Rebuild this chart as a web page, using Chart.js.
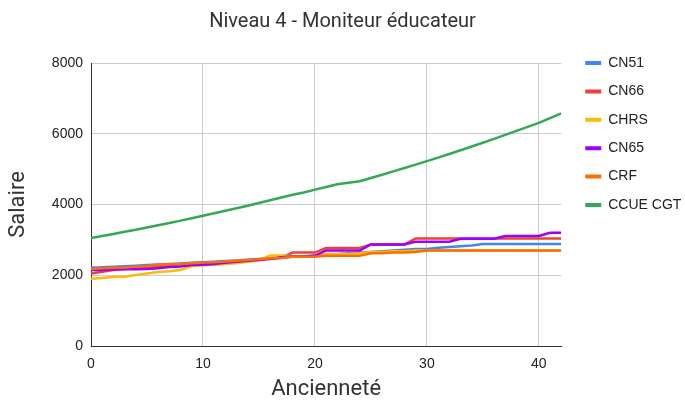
<!DOCTYPE html>
<html><head><meta charset="utf-8">
<script src="https://cdn.jsdelivr.net/npm/chart.js@4.4.0/dist/chart.umd.min.js"></script>
<style>html,body{margin:0;padding:0;background:#fff;}#wrap{width:685px;height:405px;}</style>
</head><body><div id="wrap"><canvas id="c" width="685" height="405"></canvas></div>
<script>
const years = [0,1,2,3,4,5,6,7,8,9,10,11,12,13,14,15,16,17,18,19,20,21,22,23,24,25,26,27,28,29,30,31,32,33,34,35,36,37,38,39,40,41,42];
const cn51 = [2210,2225,2240,2255,2270,2290,2305,2320,2335,2350,2370,2385,2400,2420,2440,2460,2480,2500,2520,2540,2560,2580,2600,2620,2640,2660,2680,2700,2720,2740,2740,2780,2800,2820,2840,2880,2880,2880,2880,2880,2880,2880,2880];
const cn66 = [2050,2100,2150,2180,2200,2220,2240,2260,2280,2300,2330,2350,2370,2400,2420,2450,2470,2490,2640,2640,2640,2770,2770,2770,2770,2870,2870,2870,2870,3040,3040,3040,3040,3040,3040,3040,3040,3040,3040,3040,3040,3040,3040];
const chrs = [1900,1920,1950,1960,2010,2050,2090,2110,2150,2260,2280,2300,2320,2340,2380,2420,2560,2560,2540,2540,2540,2600,2600,2600,2620,2660,2660,2680,2680,2700,2700,2700,2700,2700,2700,2700,2700,2700,2700,2700,2700,2700,2700];
const cn65 = [2150,2150,2170,2170,2170,2180,2200,2230,2250,2290,2300,2320,2350,2380,2410,2430,2460,2510,2530,2530,2550,2700,2700,2700,2700,2870,2870,2870,2870,2950,2950,2950,2950,3030,3030,3030,3030,3110,3110,3110,3110,3200,3200];
const crf = [2180,2200,2210,2220,2240,2260,2300,2310,2320,2340,2360,2370,2390,2410,2430,2450,2480,2490,2520,2520,2520,2550,2550,2550,2550,2620,2620,2640,2640,2660,2700,2700,2700,2700,2700,2700,2700,2700,2700,2700,2700,2700,2700];
const ccueCgt = [3050,3108,3167,3227,3288,3350,3413,3478,3544,3611,3680,3750,3821,3893,3967,4042,4118,4196,4275,4340,4420,4495,4570,4615,4660,4750,4840,4935,5030,5128,5226,5326,5428,5532,5638,5745,5855,5967,6081,6196,6308,6440,6575];
const seriesNames = ['CN51','CN66','CHRS','CN65','CRF','CCUE CGT'];
const seriesColors = ['#4285f4','#ea4335','#fbbc04','#9900ff','#ff6d01','#34a853'];
const yTicks = [0,2000,4000,6000,8000];
const xTicks = [0,10,20,30,40];

const allSeries = [cn51, cn66, chrs, cn65, crf, ccueCgt];
const datasets = allSeries.map((s, i) => ({
  label: seriesNames[i],
  data: s.map((v, j) => ({x: years[j], y: v})),
  borderColor: seriesColors[i],
  backgroundColor: seriesColors[i],
  borderWidth: 2.5,
  pointRadius: 0,
  pointHoverRadius: 0,
  tension: 0,
  fill: false,
  order: allSeries.length - i
}));

const tickFont = {family: "'Liberation Sans', Arial, sans-serif", size: 14};
new Chart(document.getElementById('c'), {
  type: 'line',
  data: {datasets},
  options: {
    responsive: false,
    animation: false,
    devicePixelRatio: 1,
    layout: {padding: 0},
    plugins: {
      title: {
        display: true,
        text: 'Niveau 4 - Moniteur éducateur',
        color: '#333',
        font: {family: 'Roboto', size: 20, weight: 'normal', lineHeight: 1.2},
        padding: {top: 10, bottom: 29}
      },
      legend: {
        position: 'right',
        align: 'start',
        title: {display: true, text: '', font: {size: 12, lineHeight: 1.2}, padding: {top: 27.2, bottom: 0}},
        labels: {
          boxWidth: 16,
          boxHeight: 4,
          padding: 14.4,
          color: '#222',
          font: {family: "'Liberation Sans', Arial, sans-serif", size: 14},
          sort: (a, b) => a.datasetIndex - b.datasetIndex,
          generateLabels: (chart) => Chart.defaults.plugins.legend.labels.generateLabels(chart)
            .map(it => Object.assign(it, {lineWidth: 0, strokeStyle: 'rgba(0,0,0,0)'}))
        }
      },
      tooltip: {enabled: false}
    },
    scales: {
      x: {
        type: 'linear',
        min: 0, max: 42,
        afterFit: (s) => { s.height = 59; },
        afterBuildTicks: (s) => { s.ticks = xTicks.map(v => ({value: v})); },
        ticks: {stepSize: 10, includeBounds: false, padding: 10, color: '#222', font: tickFont, maxRotation: 0,
                callback: (v) => String(v)},
        grid: {color: '#cccccc', lineWidth: 1, drawTicks: false},
        border: {display: true, color: '#333', width: 1},
        title: {display: true, text: 'Ancienneté', color: '#333', font: {family: 'Roboto', size: 22, lineHeight: 1.2}, padding: {top: 0, bottom: 2}}
      },
      y: {
        type: 'linear',
        min: 0, max: 8000,
        afterFit: (s) => { s.width = 91; },
        afterBuildTicks: (s) => { s.ticks = yTicks.map(v => ({value: v})); },
        ticks: {stepSize: 2000, padding: 8, color: '#222', font: tickFont, callback: (v) => String(v)},
        grid: {color: '#cccccc', lineWidth: 1, drawTicks: false},
        border: {display: true, color: '#333', width: 1},
        title: {display: true, text: 'Salaire', color: '#333', font: {family: 'Roboto', size: 22, lineHeight: 1.2}, padding: {top: 5, bottom: 0}}
      },
      spacer: {
        type: 'linear',
        position: 'right',
        display: true,
        afterFit: (s) => { s.width = 9.6; },
        ticks: {display: false},
        grid: {display: false, drawTicks: false},
        border: {display: false},
        title: {display: false}
      }
    }
  }
});
</script></body></html>
